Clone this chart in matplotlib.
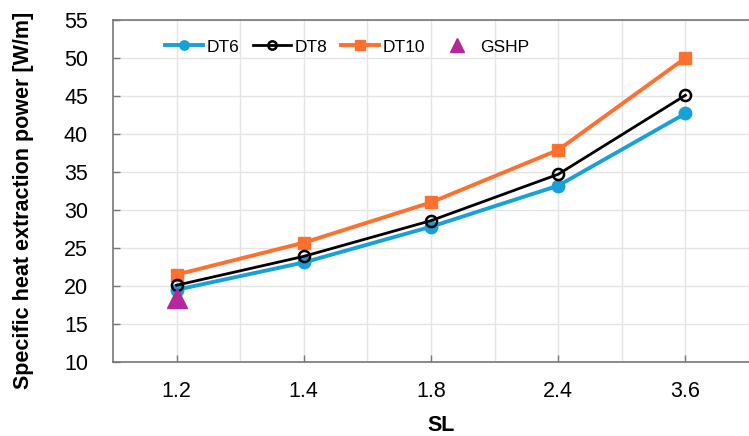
import matplotlib
matplotlib.use("Agg")
import matplotlib.pyplot as plt
import numpy as np

categories = ["1.2", "1.4", "1.8", "2.4", "3.6"]
dt6 = [19.5, 23.1, 27.8, 33.2, 42.7]
dt8 = [20.1, 23.9, 28.6, 34.7, 45.1]
dt10 = [21.5, 25.7, 31.0, 37.9, 50.0]
gshp_cat = ["1.2"]
gshp = [18.4]

plt.rcParams['font.family'] = ['Liberation Sans', 'DejaVu Sans']

W, H = 749, 436
fig = plt.figure(figsize=(W/100, H/100), dpi=100)
L, R, T, B = 113, 749, 20, 362
ax = fig.add_axes([L/W, 1-B/H, (R-L)/W, (B-T)/H])

x = np.arange(len(categories))
c6 = '#18a0d8'
c10 = '#ff6f2e'
cg = '#b5289a'
ax.plot(x, dt6, color=c6, lw=2.8, marker='o', ms=9, label='DT6', zorder=3)
ax.plot(x, dt8, color='black', lw=2.0, marker='o', ms=8, mfc='none', mew=1.8, label='DT8', zorder=4)
ax.plot(x, dt10, color=c10, lw=2.8, marker='s', ms=9, label='DT10', zorder=3)
gx = [categories.index(c) for c in gshp_cat]
ax.plot(gx, gshp, ls='none', color=cg, marker='^', ms=14, label='GSHP', zorder=5)

ax.set_xlim(-0.5, -0.5 + (R-L)/130)
ax.set_ylim(10, 55)
ax.set_yticks(np.arange(10, 56, 5))
ax.set_xticks(x)
ax.set_xticklabels(categories)
ax.set_xticks(x + 0.5, minor=True)
ax.tick_params(axis='both', labelsize=15.5, color='#777777', length=5, direction='in', width=1)
ax.tick_params(axis='x', which='minor', length=0)
ax.tick_params(axis='x', pad=14)
ax.tick_params(axis='y', pad=18)
ax.grid(True, which='both', color='#e4e4e4', lw=1)
ax.set_axisbelow(True)
for s in ['left', 'bottom', 'top']:
    ax.spines[s].set_color('#777777')
    ax.spines[s].set_linewidth(1.2)
ax.spines['right'].set_visible(False)

ax.set_xlabel('SL', fontsize=15.5, fontweight='bold', va='top')
ax.xaxis.set_label_coords((441-L)/(R-L), -(415-B)/(B-T))
ax.set_ylabel('Specific heat extraction power [W/m]', fontsize=15.5, fontweight='bold')
ax.yaxis.set_label_coords(-(L-34)/(R-L), 1-(200-T)/(B-T))

leg = ax.legend(ncol=4, loc='center left', bbox_to_anchor=(165/W, 1-47/H),
                bbox_transform=fig.transFigure, frameon=False,
                prop={'size': 12.5},
                handlelength=2.19, columnspacing=0.75, handletextpad=0.23,
                borderpad=0, borderaxespad=0, markerscale=0.75)

fig.savefig('out.png', dpi=100)
